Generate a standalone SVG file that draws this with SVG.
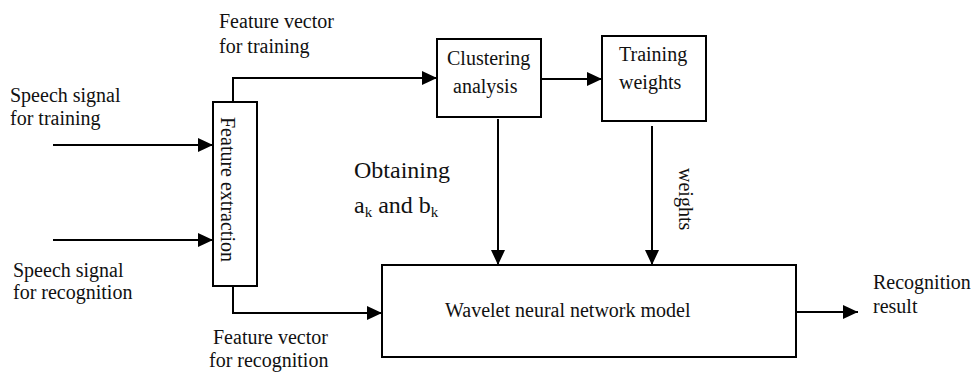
<svg xmlns="http://www.w3.org/2000/svg" width="975" height="372" viewBox="0 0 975 372">
  <style>
    text { font-family: 'Liberation Serif', 'Times New Roman', Times, 'DejaVu Serif', serif; font-size: 20px; fill: #111; }
    .box { fill: #fff; stroke: #000; stroke-width: 2; }
    .conn { fill: none; stroke: #000; stroke-width: 2; }
    .big { font-size: 24px; }
  </style>
  <defs>
    <marker id="arrow" markerUnits="userSpaceOnUse" markerWidth="15" markerHeight="14" refX="15" refY="7" orient="auto">
      <path d="M0,0 L15,7 L0,14 Z" fill="#000"/>
    </marker>
  </defs>
  <rect width="975" height="372" fill="#fff"/>

  <g id="connectors">
    <line class="conn" x1="53" y1="145" x2="213" y2="145" marker-end="url(#arrow)"/>
    <line class="conn" x1="53" y1="240" x2="213" y2="240" marker-end="url(#arrow)"/>
    <polyline class="conn" points="233,102 233,78 437,78" marker-end="url(#arrow)"/>
    <line class="conn" x1="541" y1="79" x2="602" y2="79" marker-end="url(#arrow)"/>
    <line class="conn" x1="498" y1="119" x2="498" y2="265" marker-end="url(#arrow)"/>
    <line class="conn" x1="652" y1="126" x2="652" y2="265" marker-end="url(#arrow)"/>
    <polyline class="conn" points="233,286 233,313 382,313" marker-end="url(#arrow)"/>
    <line class="conn" x1="796" y1="312" x2="858" y2="312" marker-end="url(#arrow)"/>
  </g>

  <g id="feature-extraction">
    <rect class="box" x="213" y="102" width="44" height="184"/>
    <text font-family="Liberation Serif, serif" transform="translate(221,117) rotate(90)">Feature extraction</text>
  </g>

  <g id="clustering-analysis">
    <rect class="box" x="437" y="39" width="104" height="78"/>
    <text font-family="Liberation Serif, serif" x="447" y="65">Clustering</text>
    <text font-family="Liberation Serif, serif" x="453" y="93">analysis</text>
  </g>

  <g id="training-weights">
    <rect class="box" x="602" y="36" width="104" height="85"/>
    <text font-family="Liberation Serif, serif" x="619" y="61">Training</text>
    <text font-family="Liberation Serif, serif" x="619" y="89">weights</text>
  </g>

  <g id="wavelet-model">
    <rect class="box" x="382" y="265" width="414" height="92"/>
    <text font-family="Liberation Serif, serif" x="445" y="317">Wavelet neural network model</text>
  </g>

  <g id="labels" font-family="Liberation Serif, serif">
    <text x="219" y="28">Feature vector</text>
    <text x="219" y="53">for training</text>
    <text x="10" y="102">Speech signal</text>
    <text x="10" y="125">for training</text>
    <text x="13" y="277">Speech signal</text>
    <text x="13" y="299">for recognition</text>
    <text x="213" y="344">Feature vector</text>
    <text x="209" y="367">for recognition</text>
    <text class="big" x="354" y="178">Obtaining</text>
    <text class="big" x="354" y="213">a<tspan font-size="15" dy="4">k</tspan><tspan dy="-4"> and b</tspan><tspan font-size="15" dy="4">k</tspan></text>
    <text transform="translate(679,168) rotate(90)">weights</text>
    <text x="873" y="289">Recognition</text>
    <text x="873" y="313">result</text>
  </g>
</svg>
